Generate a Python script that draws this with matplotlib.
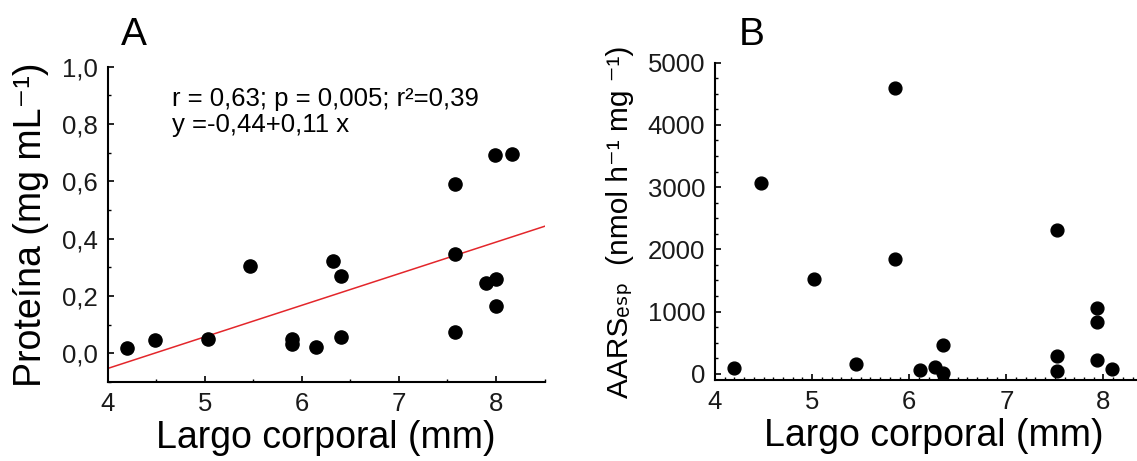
import numpy as np
import matplotlib
matplotlib.use("Agg")
import matplotlib.pyplot as plt
from matplotlib.ticker import MultipleLocator

plt.rcParams['font.family'] = ['Liberation Sans', 'DejaVu Sans']

# Panel A: proteina vs largo corporal
largo_a = [4.20, 4.49, 5.04, 5.47, 5.90, 5.90, 6.15, 6.32, 6.40, 6.40,
           7.58, 7.58, 7.58, 7.90, 8.00, 8.00, 7.99, 8.17]
proteina = [0.020, 0.045, 0.049, 0.303, 0.051, 0.031, 0.022, 0.321, 0.271, 0.058,
            0.590, 0.347, 0.074, 0.245, 0.259, 0.164, 0.691, 0.694]

# Panel B: AARS especifica vs largo corporal
largo_b = [4.20, 4.47, 5.02, 5.45, 5.85, 5.85, 6.11, 6.27, 6.35, 6.35,
           7.52, 7.52, 7.52, 7.93, 7.93, 7.93, 8.09]
aars = [90, 3070, 1530, 155, 4600, 1840, 55, 110, 470, 10,
        2310, 280, 50, 1050, 835, 225, 75]

ticks_a_y = [0.0, 0.2, 0.4, 0.6, 0.8, 1.0]
labels_a_y = ["0,0", "0,2", "0,4", "0,6", "0,8", "1,0"]
ticks_x = [4, 5, 6, 7, 8]
ticks_b_y = [0, 1000, 2000, 3000, 4000, 5000]

W, H = 1137, 461
fig = plt.figure(figsize=(W / 100, H / 100), dpi=100)

def px_axes(left, top, right, bottom):
    return fig.add_axes([left / W, 1 - bottom / H, (right - left) / W, (bottom - top) / H])

def style(ax):
    for s in ['top', 'right']:
        ax.spines[s].set_visible(False)
    for s in ['left', 'bottom']:
        ax.spines[s].set_linewidth(1.5)
    ax.tick_params(which='major', direction='in', length=4, width=1.2,
                   labelsize=18.5, labelcolor='#1a1a1a', pad=7)
    ax.tick_params(which='minor', direction='in', length=2.5, width=1.0)

# --- A ---
axA = px_axes(107.5, 66.7, 544.5, 382)
axA.scatter(largo_a, proteina, s=90, color='black', zorder=3)
pend, inter = np.polyfit(largo_a, proteina, 1)
xl = np.array([4.0, 8.5])
axA.plot(xl, inter + pend * xl, color='#e3262b', lw=1.1, zorder=2)
axA.set_xlim(4, 8.5)
axA.set_ylim(-0.1, 1.0)
axA.set_xticks(ticks_x)
axA.set_yticks(ticks_a_y)
axA.set_yticklabels(labels_a_y)
axA.xaxis.set_minor_locator(MultipleLocator(0.5))
axA.yaxis.set_minor_locator(MultipleLocator(0.1))
style(axA)
axA.set_xlabel("Largo corporal (mm)", fontsize=27, labelpad=3)
axA.set_ylabel("Proteína (mg mL⁻¹)", fontsize=27, labelpad=9)
axA.text(0.148, 0.935, "r = 0,63; p = 0,005; r²=0,39\ny =-0,44+0,11 x",
         transform=axA.transAxes, fontsize=18.5, va='top', ha='left', linespacing=1.1)

# --- B ---
axB = px_axes(715, 62.7, 1152, 380)
axB.scatter(largo_b, aars, s=85, color='black', zorder=3)
axB.set_xlim(4, 8.5)
axB.set_ylim(-100, 5000)
axB.set_xticks(ticks_x)
axB.set_yticks(ticks_b_y)
axB.xaxis.set_minor_locator(MultipleLocator(0.1))
axB.yaxis.set_minor_locator(MultipleLocator(250))
style(axB)
axB.set_xlabel("Largo corporal (mm)", fontsize=27, labelpad=3)
axB.set_ylabel("AARSₑₛₚ  (nmol h⁻¹ mg ⁻¹)", fontsize=21.5, labelpad=10)

fig.text(134 / W, 1 - 35 / H, "A", fontsize=28, ha='center', va='center')
fig.text(752 / W, 1 - 35 / H, "B", fontsize=28, ha='center', va='center')

fig.savefig("out.png", dpi=100)
